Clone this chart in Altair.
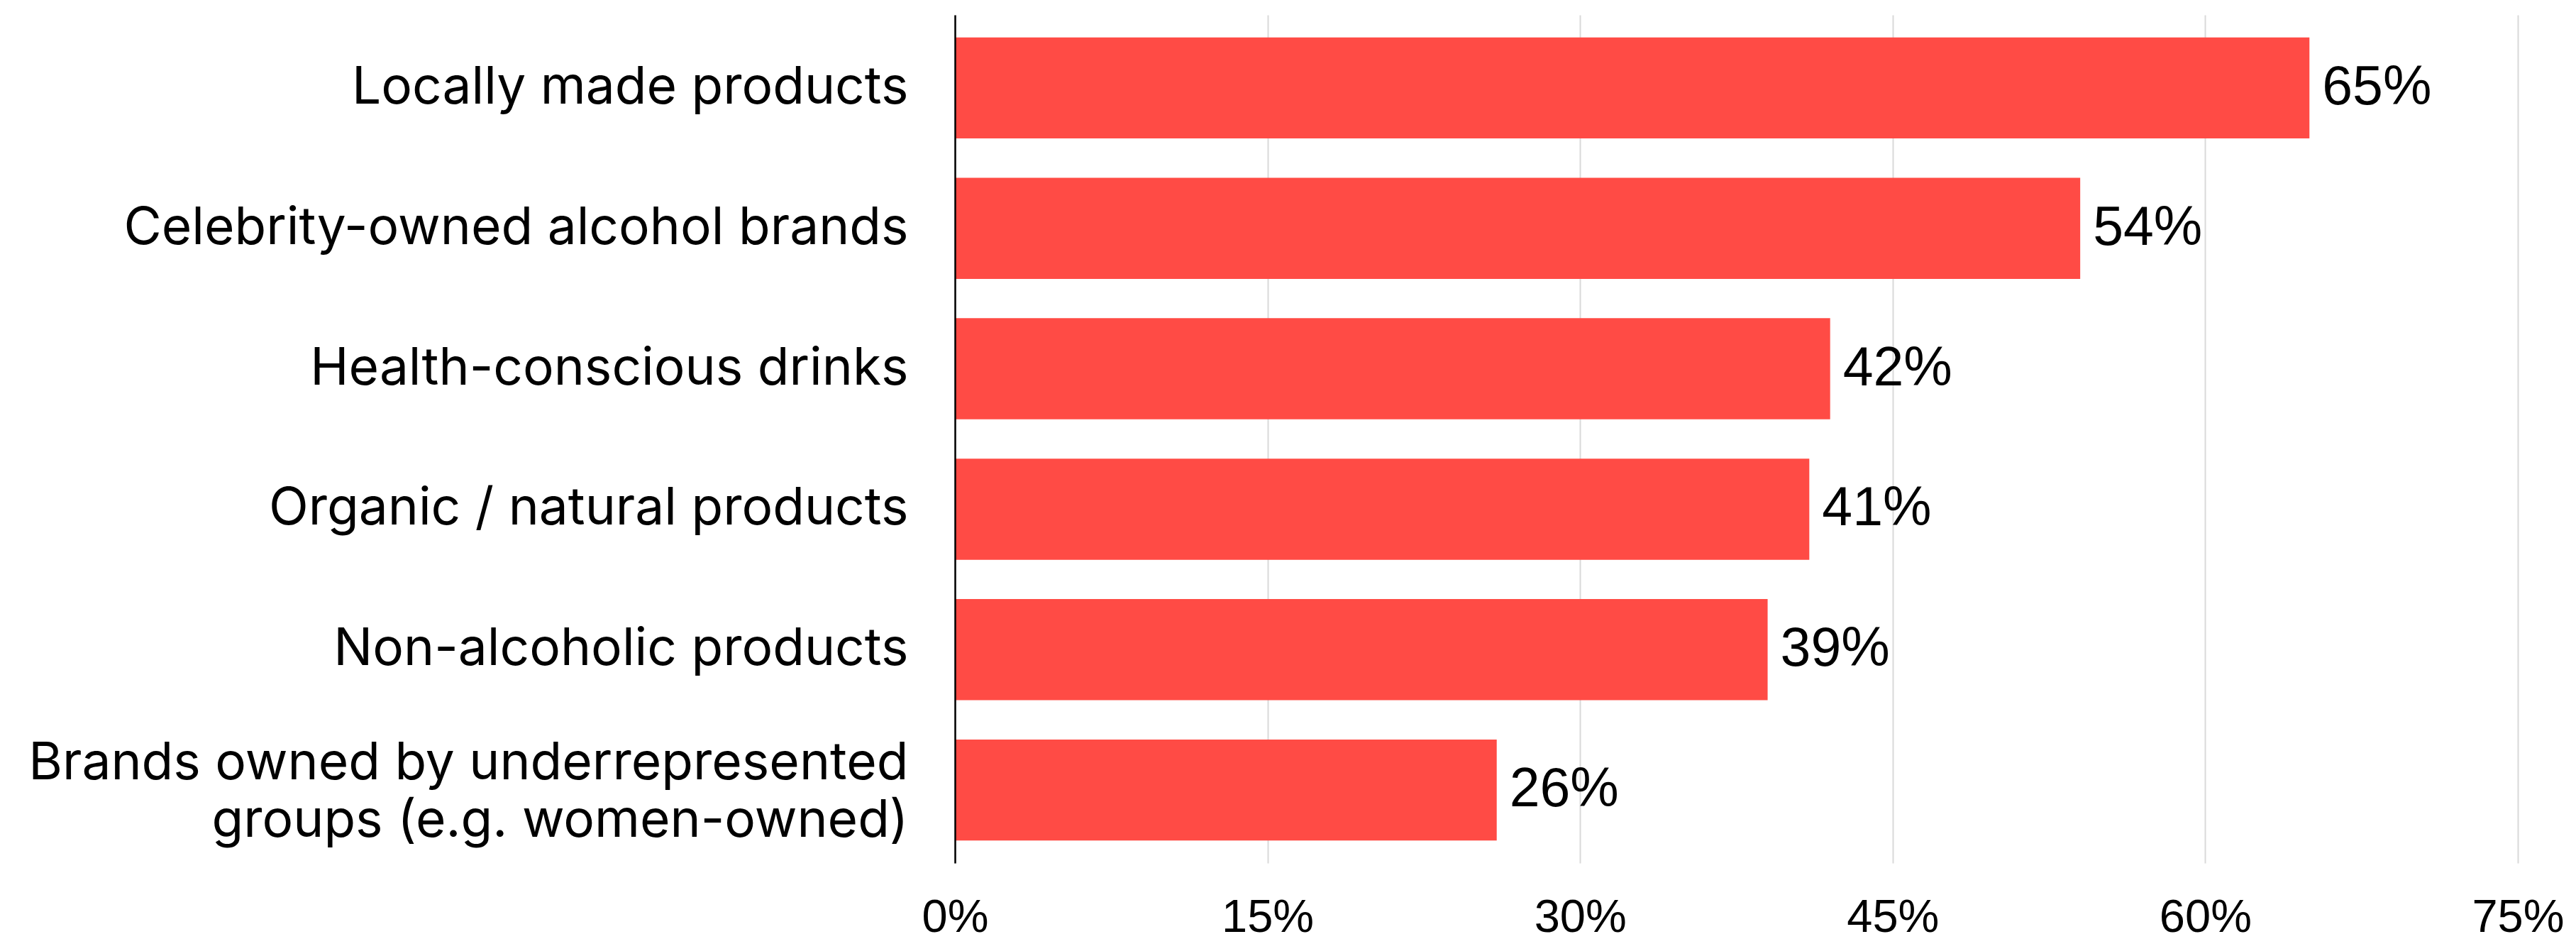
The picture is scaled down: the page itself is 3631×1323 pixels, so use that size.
import altair as alt
import pandas as pd

categories = [
    "Locally made products",
    "Celebrity-owned alcohol brands",
    "Health-conscious drinks",
    "Organic / natural products",
    "Non-alcoholic products",
    "Brands owned by underrepresented|groups (e.g. women-owned)",
]
values = [65, 54, 42, 41, 39, 26]
x_ticks = [0, 15, 30, 45, 60, 75]

df = pd.DataFrame({"category": categories, "value": values})
df["label"] = [f"{v}%" for v in values]

FONT = "Liberation Sans"
CAT_FONT = "Inter"
BAR = "#FF4B45"

y = alt.Y(
    "category:N",
    sort=categories,
    title=None,
    scale=alt.Scale(paddingInner=0.28, paddingOuter=0.16),
    axis=alt.Axis(
        labelExpr="split(datum.label, '|')",
        labelFontSize=73,
        labelFont=CAT_FONT,
        labelColor="#000000",
        labelPadding=66,
        labelLineHeight=81,
        labelLimit=0,
        labelOffset={
            "condition": {"test": "indexof(datum.value, '|') >= 0", "value": -37},
            "value": 0,
        },
        ticks=False,
        domain=True,
        domainColor="#000000",
        domainWidth=2.5,
        grid=False,
        minExtent=1333,
        maxExtent=1333,
        zindex=1,
    ),
)

x = alt.X(
    "value:Q",
    title=None,
    scale=alt.Scale(domain=[0, 75], nice=False),
    axis=alt.Axis(
        values=x_ticks,
        labelExpr="datum.value + '%'",
        labelFontSize=65,
        labelFont=FONT,
        labelColor="#000000",
        labelPadding=45,
        labelFlush=False,
        ticks=False,
        domain=False,
        grid=True,
        gridColor="#D9D9D9",
        gridWidth=2,
        maxExtent=90,
    ),
)

base = alt.Chart(df)
bars = base.mark_bar(color=BAR).encode(x=x, y=y)
texts = base.mark_text(
    align="left", baseline="middle", dx=18, fontSize=77, font=FONT, color="#000000"
).encode(x=alt.X("value:Q"), y=alt.Y("category:N", sort=categories), text="label:N")

chart = (
    alt.layer(bars, texts)
    .properties(
        width=2203,
        height=1195,
        padding={"left": 5, "top": 13, "right": 5, "bottom": 0},
        background="white",
    )
    .configure_view(stroke=None)
)

chart.save("out.html", embed_options={"renderer": "svg", "actions": False})
